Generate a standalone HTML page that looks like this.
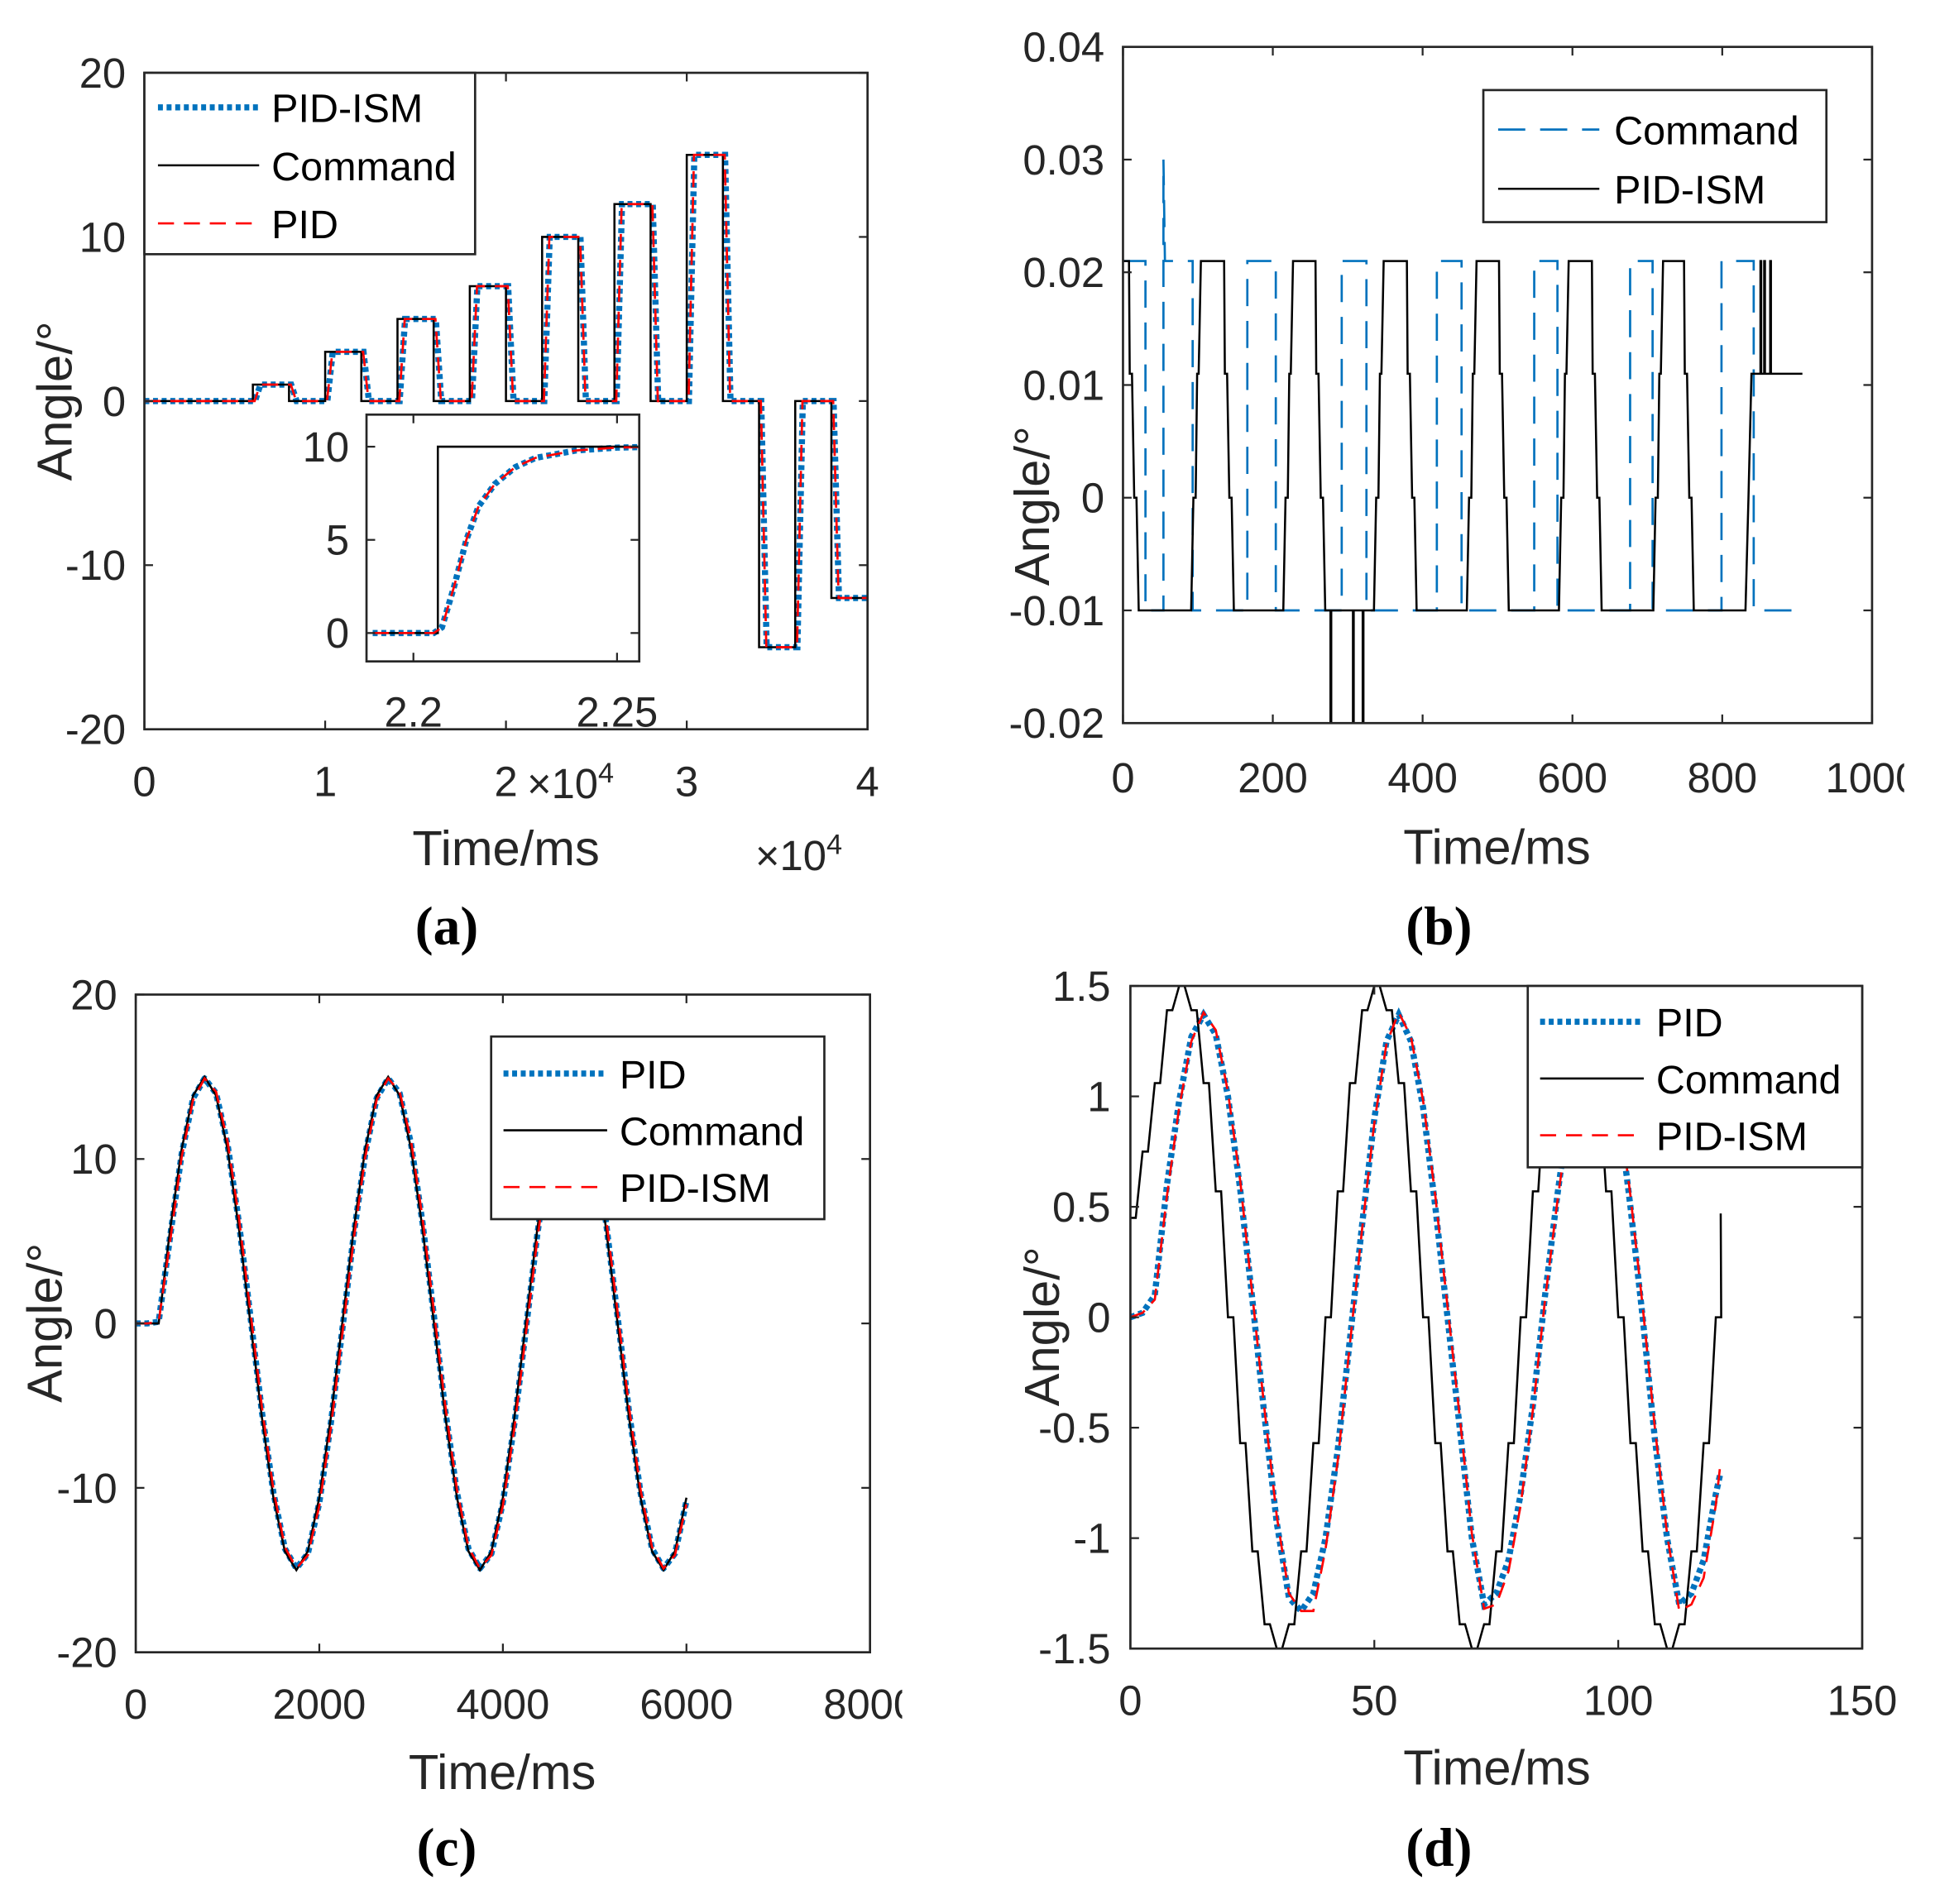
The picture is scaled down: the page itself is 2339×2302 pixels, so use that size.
<!DOCTYPE html>
<html><head><meta charset="utf-8"><style>
html,body{margin:0;padding:0;background:#fff}
svg{display:block}
text{font-family:"Liberation Sans",sans-serif;fill:#262626}
.tk{font-size:34px}
.lab{font-size:40px}
.lg{font-size:32.5px;fill:#000}
.cap{font-family:"Liberation Serif",serif;font-size:44px;font-weight:bold;fill:#000}
</style></head><body>
<svg id="fig" width="2339" height="2302" viewBox="0 0 1568 1543" preserveAspectRatio="none" xmlns="http://www.w3.org/2000/svg">
<defs>
<clipPath id="ca"><rect x="117" y="59" width="586" height="532"/></clipPath>
<clipPath id="cai"><rect x="297" y="336" width="221" height="200"/></clipPath>
<clipPath id="cb"><rect x="910" y="38" width="607" height="548"/></clipPath>
<clipPath id="cc"><rect x="110" y="806" width="595" height="533"/></clipPath>
<clipPath id="cd"><rect x="916" y="799" width="593" height="537"/></clipPath>
<clipPath id="clipLeft"><rect x="0" y="0" width="731" height="1543"/></clipPath>
<clipPath id="clipRight"><rect x="760" y="0" width="783" height="1543"/></clipPath>
</defs>
</svg>
<script>
// ---------- Panel (a) data ----------
const aStepTimes=[0,0.6,0.8,1.0,1.2,1.4,1.6,1.8,2.0,2.2,2.4,2.6,2.8,3.0,3.2,3.4,3.6,3.8,4.0];
const aStepLevels=[0,1,0,3,0,5,0,7,0,10,0,12,0,15,0,-15,0,-12];
const aXTicks=[0,1,2,3,4];
const aYTicks=[20,10,0,-10,-20];
const aInsetCmdT=[2.19,2.206,2.206,2.26];
const aInsetCmdV=[0,0,10,10];
const aInsetRespT=[2.19,2.205,2.207,2.21,2.213,2.216,2.22,2.225,2.23,2.24,2.25,2.26];
const aInsetRespV=[0,0,0.3,2.5,5,6.8,8,8.9,9.4,9.8,9.95,10];
const aInsetXTicks=[2.2,2.25];
const aInsetYTicks=[0,5,10];
// ---------- Panel (b) data ----------
const bFallTimes=[8,135,257,379,502,626,749];
const bRiseTimes=[91,214,335,459,582,708,831];
const bSpikeDownTimes=[277,307,320];
const bSpikeUpTimes=[851,856,864];
const bEndTime=907;
const bCmdT=[0,30,30,54,54,56,93,93,166,166,204,204,292,292,325,325,419,419,452,452,549,549,580,580,677,677,707,707,799,799,842,842,907];
const bCmdV=[0.021,0.021,-0.01,-0.01,0.03,0.021,0.021,-0.01,-0.01,0.021,0.021,-0.01,-0.01,0.021,0.021,-0.01,-0.01,0.021,0.021,-0.01,-0.01,0.021,0.021,-0.01,-0.01,0.021,0.021,-0.01,-0.01,0.021,0.021,-0.01,-0.01];
const bXTicks=[0,200,400,600,800,1000];
const bYTicks=[0.04,0.03,0.02,0.01,0,-0.01,-0.02];
const bYLabels=["0.04","0.03","0.02","0.01","0","-0.01","-0.02"];
// ---------- Panel (c) data ----------
const cT=[0,125,250,375,500,625,750,875,1000,1125,1250,1375,1500,1625,1750,1875,2000,2125,2250,2375,2500,2625,2750,2875,3000,3125,3250,3375,3500,3625,3750,3875,4000,4125,4250,4375,4500,4625,4750,4875,5000,5125,5250,5375,5500,5625,5750,5875,6000];
const cCmd=[0,0,0,5.74,10.6,13.86,15,13.86,10.6,5.74,0,-5.74,-10.6,-13.86,-15,-13.86,-10.6,-5.74,0,5.74,10.6,13.86,15,13.86,10.6,5.74,0,-5.74,-10.6,-13.86,-15,-13.86,-10.6,-5.74,0,5.74,10.6,13.86,15,13.86,10.6,5.74,0,-5.74,-10.6,-13.86,-15,-13.86,-10.6];
const cPID=[0,0,0.1,5.3,10.3,13.7,14.9,14.0,10.9,6.1,0.4,-5.4,-10.3,-13.7,-14.9,-14.0,-10.9,-6.1,-0.4,5.4,10.3,13.7,14.9,14.0,10.9,6.1,0.4,-5.4,-10.3,-13.7,-14.9,-14.0,-10.9,-6.1,-0.4,5.4,10.3,13.7,14.9,14.0,10.9,6.1,0.4,-5.4,-10.3,-13.7,-14.9,-14.0,-10.8];
const cISM=[0,0,0.1,5.0,10.1,13.6,14.9,14.1,11.1,6.4,0.7,-5.1,-10.1,-13.6,-14.9,-14.1,-11.1,-6.4,-0.7,5.1,10.1,13.6,14.9,14.1,11.1,6.4,0.7,-5.1,-10.1,-13.6,-14.9,-14.1,-11.1,-6.4,-0.7,5.1,10.1,13.6,14.9,14.1,11.1,6.4,0.7,-5.1,-10.1,-13.6,-14.9,-14.1,-11.0];
const cXTicks=[0,2000,4000,6000,8000];
const cYTicks=[20,10,0,-10,-20];
// ---------- Panel (d) data ----------
const dCmdT=[0,2.5,5,7.5,10,12.5,15,17.5,20,22.5,25,27.5,30,32.5,35,37.5,40,42.5,45,47.5,50,52.5,55,57.5,60,62.5,65,67.5,70,72.5,75,77.5,80,82.5,85,87.5,90,92.5,95,97.5,100,102.5,105,107.5,110,112.5,115,117.5,120,121];
const dCmd=[0.45,0.75,1.06,1.39,1.5,1.39,1.06,0.57,0,-0.57,-1.06,-1.39,-1.5,-1.39,-1.06,-0.57,0,0.57,1.06,1.39,1.5,1.39,1.06,0.57,0,-0.57,-1.06,-1.39,-1.5,-1.39,-1.06,-0.57,0,0.57,1.06,1.39,1.5,1.39,1.06,0.57,0,-0.57,-1.06,-1.39,-1.5,-1.39,-1.06,-0.57,0,0.47];
const dPID=[0,0.02,0.1,0.6,0.98,1.27,1.37,1.28,1.0,0.58,0.08,-0.45,-0.93,-1.27,-1.33,-1.25,-1.0,-0.6,-0.1,0.42,0.9,1.25,1.37,1.25,0.95,0.5,0.0,-0.5,-1.0,-1.3,-1.25,-1.1,-0.8,-0.4,0.1,0.55,0.95,1.25,1.35,1.25,0.95,0.5,0.0,-0.55,-1.0,-1.3,-1.25,-1.1,-0.8,-0.7];
const dISM=[0,0.02,0.08,0.55,0.95,1.25,1.38,1.3,1.02,0.62,0.1,-0.42,-0.9,-1.25,-1.33,-1.33,-1.05,-0.65,-0.12,0.4,0.88,1.24,1.38,1.27,0.98,0.55,0.05,-0.45,-0.98,-1.32,-1.3,-1.15,-0.85,-0.42,0.08,0.52,0.92,1.22,1.34,1.26,0.98,0.55,0.05,-0.5,-0.98,-1.33,-1.3,-1.18,-0.85,-0.65];
const dXTicks=[0,50,100,150];
const dYTicks=[1.5,1,0.5,0,-0.5,-1,-1.5];

const NS="http://www.w3.org/2000/svg";
const svg=document.getElementById('fig');
function el(tag,attrs,parent,txt){const e=document.createElementNS(NS,tag);for(const k in attrs)e.setAttribute(k,attrs[k]);if(txt!==undefined)e.textContent=txt;(parent||svg).appendChild(e);return e;}
function lin(d0,d1,p0,p1){return v=>p0+(v-d0)/(d1-d0)*(p1-p0);}
const BLUE="#0072BD",RED="#FF0000";
function styleOf(kind){
 if(kind==='dot')return {stroke:BLUE,'stroke-width':5,'stroke-dasharray':'4 3',fill:'none'};
 if(kind==='red')return {stroke:RED,'stroke-width':1.8,'stroke-dasharray':'13 8',fill:'none'};
 if(kind==='bdash')return {stroke:BLUE,'stroke-width':1.8,'stroke-dasharray':'22 12',fill:'none'};
 return {stroke:'#000','stroke-width':1.7,fill:'none'};
}
function polyPts(ts,vs,sx,sy){return ts.map((t,i)=>sx(t).toFixed(2)+','+sy(vs[i]).toFixed(2)).join(' ');}
function axesBox(x0,y0,x1,y1,name,g){
 const r=el('rect',{x:x0,y:y0,width:x1-x0,height:y1-y0,fill:'none',stroke:'#262626','stroke-width':1.8},g);
 
}
function ticks(xs,ys,sx,sy,x0,y0,x1,y1,g){
 xs.forEach(v=>{const x=sx(v);if(x<x0-1||x>x1+1)return;el('line',{x1:x,y1:y1,x2:x,y2:y1-7,stroke:'#262626','stroke-width':1.5},g);el('line',{x1:x,y1:y0,x2:x,y2:y0+7,stroke:'#262626','stroke-width':1.5},g);});
 ys.forEach(v=>{const y=sy(v);el('line',{x1:x0,y1:y,x2:x0+7,y2:y,stroke:'#262626','stroke-width':1.5},g);el('line',{x1:x1,y1:y,x2:x1-7,y2:y,stroke:'#262626','stroke-width':1.5},g);});
}
function tickLabels(xs,xl,ys,yl,sx,sy,xlY,ylX,g,clip){
 const xg=el('g',clip?{'clip-path':clip}:{},g);
 xs.forEach((v,i)=>{const t=el('text',{x:sx(v),y:xlY,'text-anchor':'middle',class:'tk'},xg,xl[i]);});
 ys.forEach((v,i)=>{const t=el('text',{x:ylX,y:sy(v)+12,'text-anchor':'end',class:'tk'},g,yl[i]);});
}
function legend(x0,y0,x1,y1,items,lx0,lx1,tx,ys,name){
 const g=el('g',{});
 el('rect',{x:x0,y:y0,width:x1-x0,height:y1-y0,fill:'#fff',stroke:'#262626','stroke-width':1.8},g);
 items.forEach((it,i)=>{const e=el('g',{},g);
  el('line',Object.assign({x1:lx0,y1:ys[i],x2:lx1,y2:ys[i]},styleOf(it[1])),e);
  el('text',{x:tx,y:ys[i]+12,class:'lg'},e,it[0]);});
}
function label(x,y,txt,rot,name,cls){const t=el('text',{x:x,y:y,'text-anchor':'middle',class:cls||'lab',transform:rot?`rotate(-90 ${x} ${y})`:''},svg,txt);}

// ===== Panel (a) =====
(function(){
 const g=el('g',{});
 const sx=lin(0,4,117,703),sy=lin(20,-20,59,591);
 const pg=el('g',{'clip-path':'url(#ca)'},g);
 function stepSeries(lag,ramp){const T=[],V=[];for(let i=0;i<aStepLevels.length;i++){const t0=aStepTimes[i],t1=aStepTimes[i+1];if(i===0){T.push(t0);V.push(aStepLevels[0]);}else{T.push(t0+lag);V.push(aStepLevels[i-1]);T.push(t0+lag+ramp);V.push(aStepLevels[i]);}if(i===aStepLevels.length-1){T.push(t1);V.push(aStepLevels[i]);}}return [T,V];}
 const c=stepSeries(0,0),p=stepSeries(0.012,0.03),r=stepSeries(0.01,0.03);
 let e=el('polyline',Object.assign({points:polyPts(p[0],p[1],sx,sy)},styleOf('dot')),pg);
 e=el('polyline',Object.assign({points:polyPts(c[0],c[1],sx,sy)},styleOf('cmd')),pg);
 e=el('polyline',Object.assign({points:polyPts(r[0],r[1],sx,sy)},styleOf('red')),pg);
 axesBox(117,59,703,591,'axes-a',g);
 ticks(aXTicks,aYTicks,sx,sy,117,59,703,591,g);
 tickLabels(aXTicks,aXTicks.map(String),aYTicks,aYTicks.map(String),sx,sy,645,102,g);
 legend(117,59,385,206,[['PID-ISM','dot'],['Command','cmd'],['PID','red']],128,210,220,[87,134,181],'legend-a');
 const ig=el('g',{},g);
 el('rect',{x:297,y:336,width:221,height:200,fill:'#fff'},ig);
 const ix=lin(2.2,2.25,335,500),iy=lin(10,0,362,513);
 const ic=el('g',{'clip-path':'url(#cai)'},ig);
 e=el('polyline',Object.assign({points:polyPts(aInsetRespT,aInsetRespV,ix,iy)},styleOf('dot')),ic);
 e=el('polyline',Object.assign({points:polyPts(aInsetCmdT,aInsetCmdV,ix,iy)},styleOf('cmd')),ic);
 e=el('polyline',Object.assign({points:polyPts(aInsetRespT,aInsetRespV,ix,iy)},styleOf('red')),ic);
 el('rect',{x:297,y:336,width:221,height:200,fill:'none',stroke:'#262626','stroke-width':1.8},ig);
 ticks(aInsetXTicks,aInsetYTicks,ix,iy,297,336,518,536,ig);
 tickLabels(aInsetXTicks,["2.2","2.25"],aInsetYTicks,["0","5","10"],ix,iy,589,283,ig);
 const m1=el('text',{x:427,y:647,class:'tk'},g);m1.innerHTML='×10<tspan dy="-13" font-size="23">4</tspan>';
 const m2=el('text',{x:612,y:705,class:'tk'},g);m2.innerHTML='×10<tspan dy="-13" font-size="23">4</tspan>';
})();
label(410,701,'Time/ms',false,'x-axis-title-a');
label(58,325,'Angle/°',true,'y-axis-title-a');
label(362,765,'(a)',false,'caption-a','cap');

// ===== Panel (b) =====
(function(){
 const g=el('g',{});
 const sx=lin(0,1000,910,1517),sy=lin(0.04,-0.02,38,586);
 const pg=el('g',{'clip-path':'url(#cb)'},g);
 let e=el('polyline',Object.assign({points:polyPts(bCmdT,bCmdV,sx,sy)},styleOf('bdash')),pg);
 const T=[0],V=[0.021];
 const ev=[];bFallTimes.forEach(t=>ev.push([t,-1]));bRiseTimes.forEach(t=>ev.push([t,1]));ev.sort((a,b)=>a[0]-b[0]);
 ev.forEach(([t,d])=>{
  if(d<0){T.push(t,t+1,t+4,t+7,t+10,t+13);V.push(0.021,0.011,0.011,0,0,-0.01);}
  else{
   bSpikeDownTimes.forEach(s=>{if(s<t&&s>t-80){T.push(s,s,s+1,s+1);V.push(-0.01,-0.02,-0.02,-0.01);}});
   if(t===bRiseTimes[bRiseTimes.length-1]){T.push(t,t+4,t+8);V.push(-0.01,0,0.011);}
   else{T.push(t,t+3,t+6,t+8,t+10,t+13);V.push(-0.01,0,0,0.011,0.011,0.021);}}
 });
 bSpikeUpTimes.forEach(s=>{T.push(s,s,s+1,s+1);V.push(0.011,0.021,0.021,0.011);});
 T.push(bEndTime);V.push(0.011);
 e=el('polyline',Object.assign({points:polyPts(T,V,sx,sy)},styleOf('cmd')),pg);
 axesBox(910,38,1517,586,'axes-b',g);
 ticks(bXTicks,bYTicks,sx,sy,910,38,1517,586,g);
 tickLabels(bXTicks,bXTicks.map(String),bYTicks,bYLabels,sx,sy,642,895,g,'url(#clipRight)');
 legend(1202,73,1480,180,[['Command','bdash'],['PID-ISM','cmd']],1214,1296,1308,[105,153],'legend-b');
})();
label(1213,700,'Time/ms',false,'x-axis-title-b');
label(850,410,'Angle/°',true,'y-axis-title-b');
label(1166,765,'(b)',false,'caption-b','cap');

// ===== Panel (c) =====
(function(){
 const g=el('g',{});
 const sx=lin(0,8000,110,705),sy=lin(20,-20,806,1339);
 const pg=el('g',{'clip-path':'url(#cc)'},g);
 let e=el('polyline',Object.assign({points:polyPts(cT,cPID,sx,sy),'stroke-linejoin':'round'},styleOf('dot')),pg);
 e=el('polyline',Object.assign({points:polyPts(cT,cCmd,sx,sy)},styleOf('cmd')),pg);
 e=el('polyline',Object.assign({points:polyPts(cT,cISM,sx,sy)},styleOf('red')),pg);
 axesBox(110,806,705,1339,'axes-c',g);
 ticks(cXTicks,cYTicks,sx,sy,110,806,705,1339,g);
 tickLabels(cXTicks,cXTicks.map(String),cYTicks,cYTicks.map(String),sx,sy,1393,95,g,'url(#clipLeft)');
 legend(398,840,668,988,[['PID','dot'],['Command','cmd'],['PID-ISM','red']],408,492,502,[870,916,962],'legend-c');
})();
label(407,1450,'Time/ms',false,'x-axis-title-c');
label(50,1072,'Angle/°',true,'y-axis-title-c');
label(362,1512,'(c)',false,'caption-c','cap');

// ===== Panel (d) =====
(function(){
 const g=el('g',{});
 const sx=lin(0,150,916,1509),sy=lin(1.5,-1.5,799,1336);
 const pg=el('g',{'clip-path':'url(#cd)'},g);
 let e=el('polyline',Object.assign({points:polyPts(dCmdT,dPID,sx,sy)},styleOf('dot')),pg);
 const sT=[],sV=[];
 dCmdT.forEach((t,i)=>{sT.push(t);sV.push(dCmd[i]);if(i<dCmdT.length-1){sT.push(t+1.1);sV.push(dCmd[i]);}});
 e=el('polyline',Object.assign({points:polyPts(sT,sV,sx,sy)},styleOf('cmd')),pg);
 e=el('polyline',Object.assign({points:polyPts(dCmdT,dISM,sx,sy)},styleOf('red')),pg);
 axesBox(916,799,1509,1336,'axes-d',g);
 ticks(dXTicks,dYTicks,sx,sy,916,799,1509,1336,g);
 tickLabels(dXTicks,dXTicks.map(String),dYTicks,dYTicks.map(String),sx,sy,1390,900,g,'url(#clipRight)');
 legend(1238,799,1509,946,[['PID','dot'],['Command','cmd'],['PID-ISM','red']],1248,1332,1342,[828,874,920],'legend-d');
})();
label(1213,1446,'Time/ms',false,'x-axis-title-d');
label(858,1075,'Angle/°',true,'y-axis-title-d');
label(1166,1512,'(d)',false,'caption-d','cap');
</script>
</body></html>
